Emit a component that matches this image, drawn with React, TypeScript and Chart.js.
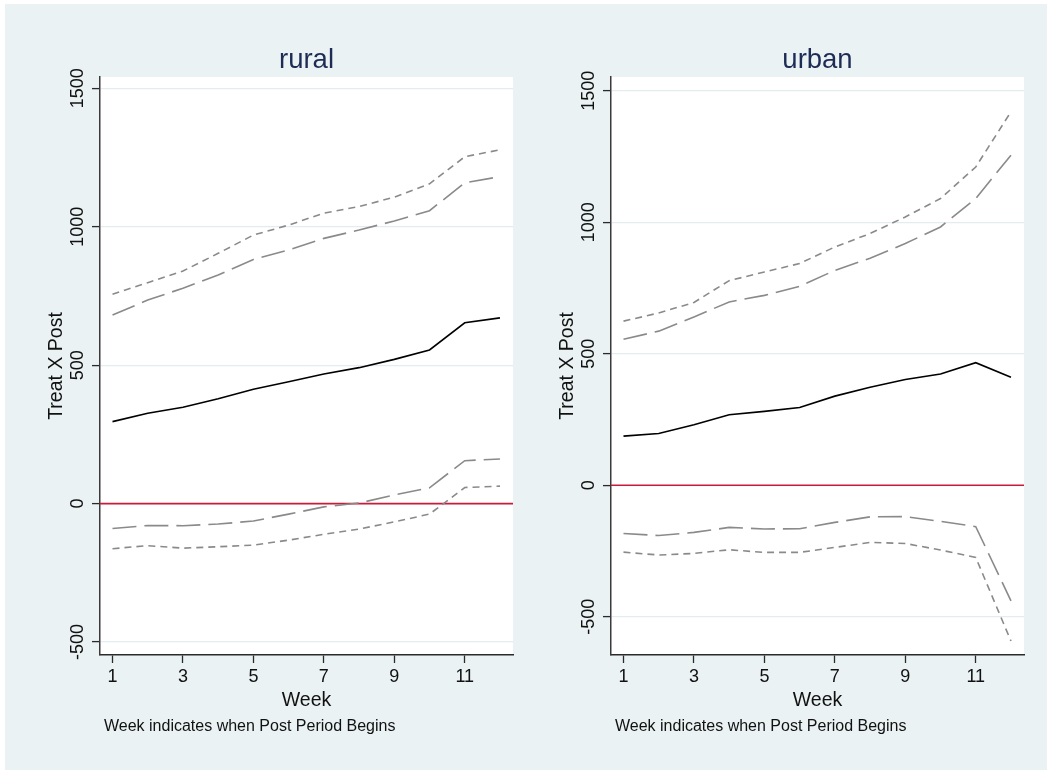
import React, { useEffect, useRef } from "react";
import { Chart, registerables } from "chart.js";

Chart.register(...registerables);

// ---- data ----
const weeks = [1, 2, 3, 4, 5, 6, 7, 8, 9, 10, 11, 12];
const xTickValues = [1, 3, 5, 7, 9, 11];
const yTickValues = [-500, 0, 500, 1000, 1500];

const panelTitles = ["rural", "urban"];
const yAxisTitle = "Treat X Post";
const xAxisTitle = "Week";
const noteText = "Week indicates when Post Period Begins";

const ruralEstimate = [296, 326, 348, 379, 413, 440, 468, 491, 521, 555, 653, 671];
const ruralLongDashUpper = [681, 735, 778, 826, 882, 916, 958, 988, 1021, 1058, 1159, 1181];
const ruralLongDashLower = [-90, -79, -80, -74, -63, -38, -12, 2, 31, 57, 155, 161];
const ruralShortDashUpper = [756, 798, 840, 904, 970, 1006, 1049, 1073, 1107, 1155, 1253, 1278];
const ruralShortDashLower = [-163, -152, -161, -156, -150, -132, -111, -92, -66, -38, 58, 63];

const urbanEstimate = [187, 197, 230, 268, 281, 296, 339, 373, 402, 423, 466, 411];
const urbanLongDashUpper = [555, 586, 640, 697, 722, 756, 817, 863, 919, 982, 1090, 1255];
const urbanLongDashLower = [-183, -191, -179, -160, -166, -165, -141, -120, -119, -137, -157, -439];
const urbanShortDashUpper = [624, 655, 695, 778, 811, 843, 906, 957, 1020, 1090, 1210, 1420];
const urbanShortDashLower = [-254, -265, -259, -245, -255, -255, -236, -217, -221, -246, -274, -592];

const xRange = [0.645, 12.37];
const ruralYRange = [-547, 1541];
const urbanYRange = [-645, 1552];

// ---- styles ----
const FONT = "'Liberation Sans', Arial, Helvetica, sans-serif";
const BG = "#eaf2f3";
const GRID = "#e3ecef";
const AXIS = "#2a2a2a";
const GRAY = "#8a8a8a";
const RED = "#cc1a3c";
const TITLE = "#1d2c55";

type PanelProps = {
  title: string;
  est: number[];
  longUp: number[];
  longLo: number[];
  shortUp: number[];
  shortLo: number[];
  yRange: number[];
  left: number;
  width: number;
  rightPad: number;
};

const toPts = (arr: number[]) => weeks.map((w, i) => ({ x: w, y: arr[i] }));

function Panel(p: PanelProps) {
  const ref = useRef<HTMLCanvasElement | null>(null);
  useEffect(() => {
    if (!ref.current) return;
    const decor = {
      id: "stataDecor",
      beforeDraw(chart: any) {
        const { ctx, chartArea: a } = chart;
        ctx.save();
        ctx.fillStyle = "#ffffff";
        ctx.fillRect(a.left, a.top, a.right - a.left, a.bottom - a.top);
        ctx.restore();
      },
      beforeDatasetsDraw(chart: any) {
        const { ctx, chartArea: a } = chart;
        const y0 = chart.scales.y.getPixelForValue(0);
        ctx.save();
        ctx.strokeStyle = RED;
        ctx.lineWidth = 1.6;
        ctx.beginPath();
        ctx.moveTo(a.left, y0);
        ctx.lineTo(a.right, y0);
        ctx.stroke();
        ctx.restore();
      },
      afterDraw(chart: any) {
        const { ctx, chartArea: a } = chart;
        const ys = chart.scales.y;
        const cx = (a.left + a.right) / 2;
        const cy = (a.top + a.bottom) / 2;
        ctx.save();
        // panel title
        ctx.fillStyle = TITLE;
        ctx.font = `27.5px ${FONT}`;
        ctx.textAlign = "center";
        ctx.textBaseline = "alphabetic";
        ctx.fillText(p.title, cx, 67.5);
        // y tick labels (rotated)
        ctx.fillStyle = "#111";
        ctx.font = `18px ${FONT}`;
        yTickValues.forEach((v) => {
          const py = ys.getPixelForValue(v);
          ctx.save();
          ctx.translate(a.left - 17.5, py);
          ctx.rotate(-Math.PI / 2);
          ctx.textAlign = "center";
          ctx.fillText(String(v), 0, 0);
          ctx.restore();
        });
        // y axis title
        ctx.font = `19.5px ${FONT}`;
        ctx.save();
        ctx.translate(a.left - 38.5, cy);
        ctx.rotate(-Math.PI / 2);
        ctx.textAlign = "center";
        ctx.fillText(yAxisTitle, 0, 0);
        ctx.restore();
        // x axis title
        ctx.textAlign = "center";
        ctx.fillText(xAxisTitle, cx, 705.5);
        // note
        ctx.font = `16px ${FONT}`;
        ctx.textAlign = "left";
        ctx.fillText(noteText, a.left + 4, 730.5);
        ctx.restore();
      },
    };
    const ds = (data: number[], color: string, dash: number[]) => ({
      data: toPts(data),
      borderColor: color,
      borderWidth: 1.6,
      borderDash: dash,
      pointRadius: 0,
      tension: 0,
      fill: false,
    });
    const chart = new Chart(ref.current, {
      type: "line",
      data: {
        datasets: [
          ds(p.shortUp, GRAY, [7, 5]),
          ds(p.longUp, GRAY, [24, 8]),
          ds(p.est, "#000000", []),
          ds(p.longLo, GRAY, [24, 8]),
          ds(p.shortLo, GRAY, [7, 5]),
        ],
      },
      options: {
        animation: false,
        responsive: false,
        events: [],
        layout: { padding: { left: 0, top: 77, right: p.rightPad, bottom: 0 } },
        plugins: { legend: { display: false }, tooltip: { enabled: false } },
        scales: {
          x: {
            type: "linear",
            min: xRange[0],
            max: xRange[1],
            afterBuildTicks: (s: any) => {
              s.ticks = xTickValues.map((v) => ({ value: v }));
            },
            afterFit: (s: any) => {
              s.height = 115;
            },
            grid: {
              drawOnChartArea: false,
              drawTicks: true,
              tickLength: 8,
              tickColor: AXIS,
              tickWidth: 1.3,
            },
            border: { display: true, color: AXIS, width: 1.5 },
            ticks: {
              color: "#111",
              font: { family: FONT, size: 18 },
              padding: 3,
              maxRotation: 0,
              autoSkip: false,
              callback: (v: any) => String(v),
            },
          },
          y: {
            type: "linear",
            min: p.yRange[0],
            max: p.yRange[1],
            afterBuildTicks: (s: any) => {
              s.ticks = yTickValues.map((v) => ({ value: v }));
            },
            afterFit: (s: any) => {
              s.width = 100;
            },
            grid: {
              color: GRID,
              lineWidth: 1.2,
              drawTicks: true,
              tickLength: 8,
              tickColor: AXIS,
              tickWidth: 1.3,
            },
            border: { display: true, color: "#3a3a3a", width: 1.5 },
            ticks: { display: false },
          },
        },
      },
      plugins: [decor],
    } as any);
    return () => chart.destroy();
  }, []);
  return (
    <canvas
      ref={ref}
      width={p.width}
      height={770}
      style={{ position: "absolute", left: p.left, top: 0, width: p.width, height: 770, display: "block" }}
    />
  );
}

export default function App() {
  return (
    <div style={{ position: "absolute", left: 0, top: 0, width: 1047, height: 770, background: "#ffffff", overflow: "hidden" }}>
      <div style={{ position: "absolute", left: 5, top: 4, width: 1042, height: 766, background: BG }} />
      <Panel
        title={panelTitles[0]}
        est={ruralEstimate}
        longUp={ruralLongDashUpper}
        longLo={ruralLongDashLower}
        shortUp={ruralShortDashUpper}
        shortLo={ruralShortDashLower}
        yRange={ruralYRange}
        left={0}
        width={523}
        rightPad={10}
      />
      <Panel
        title={panelTitles[1]}
        est={urbanEstimate}
        longUp={urbanLongDashUpper}
        longLo={urbanLongDashLower}
        shortUp={urbanShortDashUpper}
        shortLo={urbanShortDashLower}
        yRange={urbanYRange}
        left={511}
        width={536}
        rightPad={23}
      />
    </div>
  );
}
